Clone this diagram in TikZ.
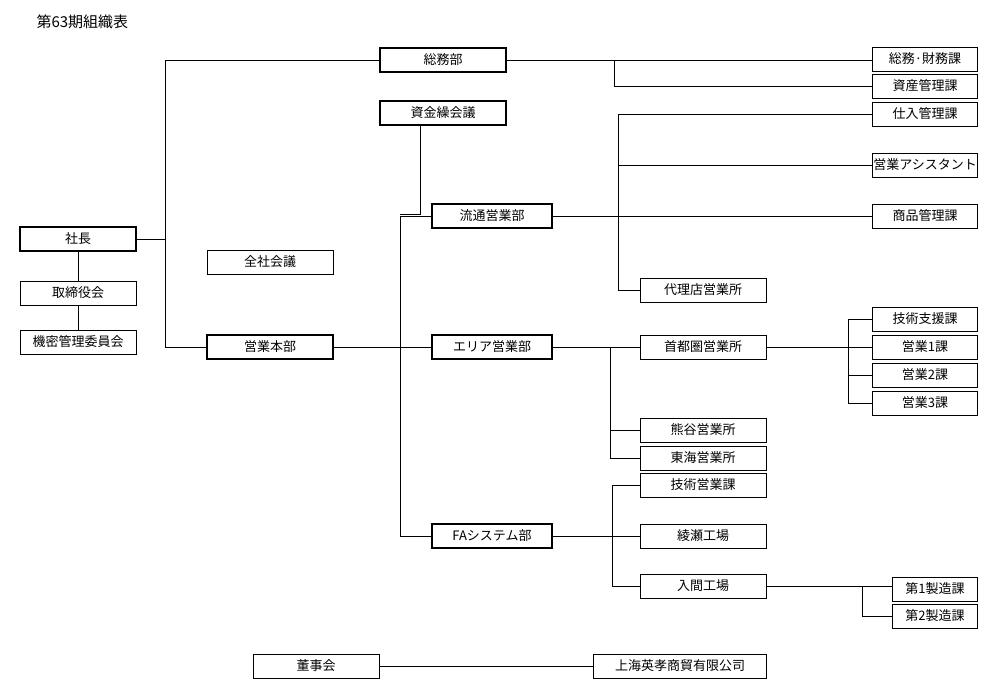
\documentclass[tikz,border=0pt]{standalone}
\usepackage{fontspec}
\setmainfont{Noto Sans CJK JP}
\begin{document}
\begin{tikzpicture}[x=1pt,y=-1pt,
 bx/.style={draw,line width=0.6pt,minimum height=24pt,inner sep=1pt,font=\fontsize{13}{14}\selectfont},
 tk/.style={bx,line width=1.6pt},
 w126/.style={minimum width=126pt},
 w116/.style={minimum width=116pt},
 w120/.style={minimum width=120pt},
 w105/.style={minimum width=105pt},
 w85/.style={minimum width=85pt},
 ln/.style={line width=0.6pt}]
\useasboundingbox (0,0) rectangle (984,685);
\node[anchor=west,font=\fontsize{15}{16}\selectfont] (title) at (33,22) {第63期組織表};
\node[tk,w126] (somu) at (443,60) {総務部};
\node[tk,w126] (shikin) at (443,113) {資金繰会議};
\node[tk,w116] (shacho) at (78,239) {社長};
\node[bx,w116] (tori) at (78,293) {取締役会};
\node[bx,w116] (kimitsu) at (78,342) {機密管理委員会};
\node[bx,w126] (zensha) at (270,262) {全社会議};
\node[tk,w126] (honbu) at (270,347) {営業本部};
\node[tk,w120] (ryutsu) at (492,216) {流通営業部};
\node[tk,w120] (area) at (492,347) {エリア営業部};
\node[tk,w120] (fa) at (492,536) {FAシステム部};
\node[bx,w105] (zaimu) at (925,59) {総務·財務課};
\node[bx,w105] (shisan) at (925,86) {資産管理課};
\node[bx,w105] (shiire) at (925,114) {仕入管理課};
\node[bx,w105] (assist) at (925,165) {営業アシスタント};
\node[bx,w105] (shohin) at (925,216) {商品管理課};
\node[bx,w126] (dairi) at (703,290) {代理店営業所};
\node[bx,w126] (shuto) at (703,347) {首都圏営業所};
\node[bx,w105] (gishien) at (925,319) {技術支援課};
\node[bx,w105] (e1) at (925,347) {営業1課};
\node[bx,w105] (e2) at (925,375) {営業2課};
\node[bx,w105] (e3) at (925,403) {営業3課};
\node[bx,w126] (kuma) at (703,430) {熊谷営業所};
\node[bx,w126] (tokai) at (703,458) {東海営業所};
\node[bx,w126] (giei) at (703,485) {技術営業課};
\node[bx,w126] (ayase) at (703,536) {綾瀬工場};
\node[bx,w126] (iruma) at (703,586) {入間工場};
\node[bx,w85,line width=1pt] (s1) at (935,589) {第1製造課};
\node[bx,w85] (s2) at (935,616) {第2製造課};
\node[bx,w126] (toji) at (316,666) {董事会};
\node[bx,minimum width=173pt] (shanghai) at (680,666) {上海英孝商貿有限公司};
% connectors
\draw[ln] (shacho.east) -- (165,239);
\draw[ln] (somu.west) -- (165,60) -- (165,347) -- (honbu.west);
\draw[ln] (shacho) -- (tori); \draw[ln] (tori) -- (kimitsu);
\draw[ln] (somu.east) -- (zaimu.west|-somu.east);
\draw[ln] (614,60) -- (614,86) -- (shisan.west);
\draw[ln] (shikin.south-|420,0) -- (420,214) -- (400,214);
\draw[ln] (ryutsu.west) -- (400,216) -- (400,536) -- (fa.west);
\draw[ln] (honbu.east) -- (area.west);
\draw[ln] (ryutsu.east) -- (shohin.west);
\draw[ln] (shiire.west) -- (618,114) -- (618,290) -- (dairi.west);
\draw[ln] (618,165) -- (assist.west);
\draw[ln] (area.east) -- (shuto.west);
\draw[ln] (610,347) -- (610,458) -- (tokai.west);
\draw[ln] (610,430) -- (kuma.west);
\draw[ln] (shuto.east) -- (848,347);
\draw[ln] (gishien.west) -- (848,319) -- (848,403) -- (e3.west);
\draw[ln] (848,347) -- (e1.west);
\draw[ln] (848,375) -- (e2.west);
\draw[ln] (fa.east) -- (ayase.west);
\draw[ln] (giei.west) -- (612,485) -- (612,586) -- (iruma.west);
\draw[ln] (iruma.east) -- (s1.west|-iruma.east);
\draw[ln] (862,586) -- (862,616) -- (s2.west);
\draw[ln] (toji) -- (shanghai);
\end{tikzpicture}
\end{document}
